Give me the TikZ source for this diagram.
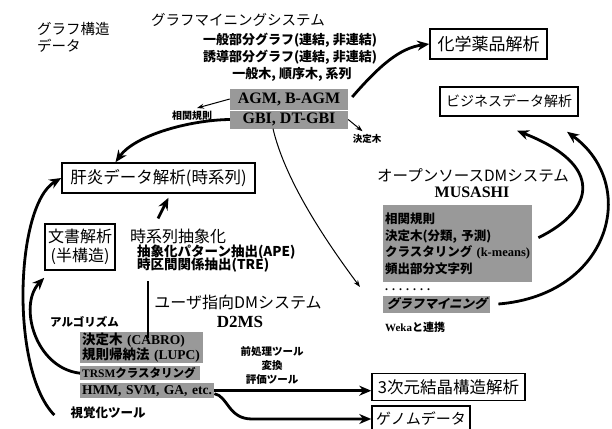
\documentclass[tikz,border=0pt]{standalone}
\usepackage{fontspec}
\setmainfont{Liberation Serif}
\newfontfamily\jp{Noto Sans CJK JP}
\newfontfamily\jpsl[FakeSlant=0.25]{Noto Sans CJK JP}
\usetikzlibrary{arrows.meta,calc}
\newcommand\fs[1]{\fontsize{#1}{#1}\selectfont}
\newcommand\lat[1]{{\rmfamily #1}}
\begin{document}
\begin{tikzpicture}[x=1pt,y=-1pt,
  txt/.style={inner sep=0pt},
  lbl/.style={draw, line width=1.5pt, inner sep=0pt, font=\jp},
  gbox/.style={fill=black!40, inner sep=0pt},
  big/.style={line width=2.8pt, -{Stealth[length=12pt,width=10pt]}},
  thinarr/.style={line width=1pt, -{Stealth[length=7pt,width=5pt]}},
]
\useasboundingbox (0,0) rectangle (612,428);

% top left
\node[txt, anchor=west, font=\jp\fs{14.5}] (gk1) at (37,29) {グラフ構造};
\node[txt, anchor=west, font=\jp\fs{14.5}] (gk2) at (37,46) {データ};

% graph mining system
\node[txt, font=\jp\fs{14.5}] (gms) at (238,20) {グラフマイニングシステム};
\node[txt, font=\jp\bfseries\fs{13}] (sub1) at (290,40) {一般部分グラフ(連結, 非連結)};
\node[txt, font=\jp\bfseries\fs{13}] (sub2) at (290,57) {誘導部分グラフ(連結, 非連結)};
\node[txt, font=\jp\bfseries\fs{13}] (sub3) at (292,74) {一般木, 順序木, 系列};
\node[gbox, minimum width=118pt, minimum height=21pt, font=\bfseries\fs{16}] (agm) at (289,99) {AGM, B-AGM};
\node[gbox, minimum width=118pt, minimum height=18pt, font=\bfseries\fs{16}] (gbi) at (289,119.5) {GBI, DT-GBI};
\node[txt, font=\jp\bfseries\fs{10}] (sokan) at (192,116) {相関規則};
\node[txt, font=\jp\bfseries\fs{9.5}] (kettei) at (367,139) {決定木};

% application boxes
\node[lbl, minimum width=117pt, minimum height=30pt, font=\jp\fs{17}] (kagaku) at (488.5,44) {化学薬品解析};
\node[lbl, minimum width=138pt, minimum height=29pt, font=\jp\fs{14}] (biz) at (509,101.5) {ビジネスデータ解析};
\node[lbl, minimum width=193pt, minimum height=30pt, font=\jp\fs{16.5}] (kanen) at (158.5,178) {肝炎データ解析(時系列)};
\node[lbl, minimum width=70pt, minimum height=46pt, align=center, font=\jp\fontsize{16}{19}\selectfont] (bunsho) at (80,247) {文書解析\\(半構造)};
\node[lbl, minimum width=153pt, minimum height=27pt, font=\jp\fs{16.5}] (sanji) at (448.5,387) {3次元結晶構造解析};
\node[lbl, minimum width=98pt, minimum height=26pt, font=\jp\fs{15}] (genome) at (421,419) {ゲノムデータ};

% time series abstraction
\node[txt, anchor=west, font=\jp\fs{16}] (jikei) at (130,236) {時系列抽象化};
\node[txt, anchor=west, font=\jp\bfseries\fs{13.5}] (ape) at (137,252) {抽象化パターン抽出(APE)};
\node[txt, anchor=west, font=\jp\bfseries\fs{13.5}] (tre) at (137,265) {時区間関係抽出(TRE)};

% MUSASHI
\node[txt, font=\jp\fs{15.5}] (oss) at (473,175) {オープンソースDMシステム};
\node[txt, font=\bfseries\fs{16}] (musashi) at (472,192) {MUSASHI};
\node[gbox, anchor=north west, text width=145pt, minimum height=77pt, inner xsep=2pt, align=left,
      font=\jp\bfseries\fontsize{12.5}{16.5}\selectfont] (mbox) at (383,205)
      {相関規則\\決定木(分類,~予測)\\クラスタリング~\lat{(k-means)}\\頻出部分文字列};
\node[txt, anchor=west, font=\bfseries\fs{12}] (dots) at (385,290) {. . . . . . .};
\node[gbox, anchor=west, minimum width=107pt, minimum height=17pt, font=\jpsl\bfseries\fs{12.5}] (gmine) at (383,304) {グラフマイニング};
\node[txt, anchor=west, font=\jp\bfseries\fs{11}] (weka) at (385,327) {\lat{Weka}と連携};

% D2MS
\node[txt, font=\jp\fs{16}] (user) at (238,302) {ユーザ指向DMシステム};
\node[txt, font=\bfseries\fs{17}] (d2ms) at (240,322) {D2MS};
\node[txt, anchor=west, font=\jp\bfseries\fs{11.5}] (algo) at (50,322) {アルゴリズム};
\node[gbox, anchor=north west, text width=119pt, minimum height=31pt, inner xsep=2pt, align=left,
      font=\jp\bfseries\fontsize{13.5}{15.5}\selectfont] (dbox) at (80,332)
      {決定木~\lat{(CABRO)}\\規則帰納法~\lat{(LUPC)}};
\node[gbox, anchor=north west, text width=116pt, minimum height=14pt, inner xsep=2pt, align=left,
      font=\jp\bfseries\fs{11.5}] (trsm) at (80,366) {\lat{TRSM}クラスタリング};
\node[gbox, anchor=north west, text width=130pt, minimum height=15pt, inner xsep=2pt, align=left,
      font=\bfseries\fs{13.5}] (hmm) at (80,383) {HMM,~SVM,~GA,~etc.};
\node[txt, font=\jp\bfseries\fs{10.5}] (pre) at (272,352) {前処理ツール};
\node[txt, font=\jp\bfseries\fs{10.5}] (hen) at (272,366) {変換};
\node[txt, font=\jp\bfseries\fs{10.5}] (hyo) at (272,380) {評価ツール};
\node[txt, font=\jp\bfseries\fs{12.5}] (shikaku) at (108,413) {視覚化ツール};

% connectors
\draw[big] ($(agm.east)+(4,-2)$) .. controls (380,65) and (400,48) .. (kagaku.west);
\draw[big] (gbi.west) .. controls (190,120) and (135,135) .. ($(kanen.north)+(-43,0)$);
\draw[thinarr] (agm.west) -- ($(sokan.north)+(5,-3)$);
\draw[thinarr] (gbi.east) -- ($(kettei.north west)+(10,-3)$);
\draw[thinarr] ($(gbi.south)+(-16,0)$) .. controls (285,180) and (325,240) .. ($(gmine.west)+(-23,-17)$);
\draw[big] ($(mbox.east)+(6,-6)$) .. controls (595,210) and (605,165) .. ($(biz.south)+(8,14)$);
\draw[big] ($(gmine.east)+(8,0)$) .. controls (610,295) and (640,185) .. ($(biz.south)+(58,15)$);
\draw[big] ($(shikaku.west)+(-16,2)$) .. controls (10,370) and (15,205) .. (kanen.west);
\draw[big] (trsm.west) .. controls (35,368) and (18,305) .. ($(bunsho.south west)+(0,7)$);
\draw[big] ($(jikei.north west)+(28,-10)$) -- ($(kanen.south)+(10,4)$);
\draw[line width=2.5pt] ($(tre.south west)+(11,9)$) -- ($(dbox.north west)+(68,6)$);
\draw[big] (hmm.east) -- (hmm.east -| sanji.west);
\draw[big] ($(hmm.east)+(0,3)$) .. controls (228,396) and (228,419) .. (252,419) -- (genome.west);
\end{tikzpicture}
\end{document}
